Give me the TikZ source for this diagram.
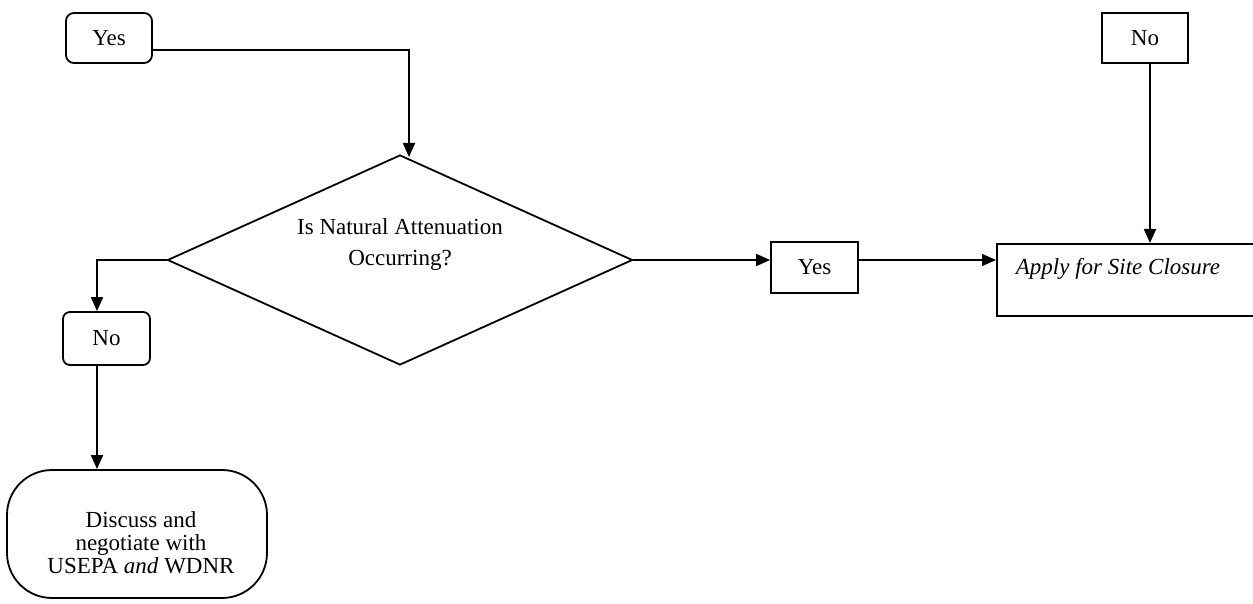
\documentclass[tikz,border=0pt]{standalone}
\usepackage{fontspec}
\setmainfont{Liberation Serif}
\usetikzlibrary{shapes.geometric,arrows.meta}
\begin{document}
\begin{tikzpicture}[x=1pt,y=-1pt,
  every node/.style={font=\fontsize{23}{25}\selectfont, line width=1.8pt},
  box/.style={draw, rectangle, inner sep=0pt},
  rbox/.style={draw, rectangle, rounded corners=8pt, inner sep=0pt},
  arr/.style={draw, line width=1.8pt, -{Triangle[length=14pt,width=12pt]}},
  txt/.style={inner sep=0pt, align=center, font=\fontsize{23}{31}\selectfont}
]
\useasboundingbox (0,0) rectangle (1253,604);
\fill[white] (0,0) rectangle (1253,604);

% nodes
\node[rbox, minimum width=86pt, minimum height=50pt] (yes1) at (109,38) {Yes};
\node[diamond, draw, inner sep=0pt, minimum width=465pt, minimum height=210pt,
      label={[txt, yshift=15pt]center:Is Natural Attenuation\\Occurring?}] (dec) at (400,260) {};
\node[rbox, rounded corners=7pt, minimum width=87pt, minimum height=53pt] (no1) at (106.5,338.5) {No};
\node[draw, rectangle, rounded corners=45pt, minimum width=260pt, minimum height=128pt,
      inner sep=0pt,
      label={[inner sep=0pt, align=center, font=\fontsize{23}{23}\selectfont, yshift=-9pt, xshift=4pt]center:Discuss and\\negotiate with\\USEPA \textit{and} WDNR}] (disc) at (137,534) {};
\node[box, minimum width=87pt, minimum height=51pt] (yes2) at (814.5,267.5) {Yes};
\node[box, minimum width=262pt, minimum height=72pt, anchor=north west,
      label={[inner sep=0pt, anchor=west, xshift=19pt, yshift=11pt]west:\textit{Apply for Site Closure}}] (apply) at (996,243) {};
\node[box, minimum width=86pt, minimum height=50pt] (no2) at (1145,38) {No};

% connectors
\coordinate (c1) at (409,157);
\draw[arr] ([yshift=-12pt]yes1.east) -| (c1);
\draw[arr] (dec.west) -| ([xshift=-9.5pt]no1.north);
\draw[arr] ([xshift=-9.5pt]no1.south) -- ([xshift=-9.5pt]no1.south |- disc.north);
\draw[arr] (dec.east) -- (dec.east -| yes2.west);
\draw[arr] ([yshift=7.5pt]yes2.east) -- ([yshift=7.5pt]yes2.east -| apply.west);
\draw[arr] ([xshift=5pt]no2.south) -- ([xshift=5pt]no2.south |- apply.north);
\end{tikzpicture}
\end{document}
